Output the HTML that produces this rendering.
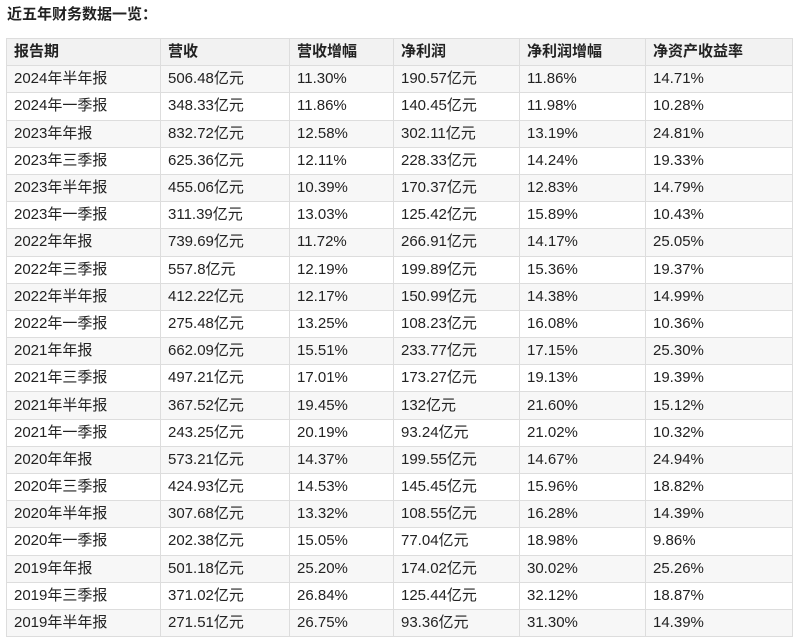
<!DOCTYPE html>
<html><head><meta charset="utf-8"><style>
html,body{margin:0;padding:0;background:#fff;width:800px;height:643px;overflow:hidden;}
body{font-family:"Liberation Sans","Noto Sans CJK SC",sans-serif;color:#222;font-size:15px;}
.t{position:absolute;left:7px;top:5px;font-weight:bold;font-size:15px;line-height:20px;}
table{position:absolute;left:6px;top:38px;border-collapse:collapse;table-layout:fixed;width:786px;}
td,th{border:1px solid #ddd;height:26.2px;padding:0 0 0 7px;text-align:left;font-size:15px;line-height:16px;white-space:nowrap;}
th{background:#f2f2f2;font-weight:bold;}
tr:nth-child(odd) td{background:#f7f7f7;}
</style></head><body>
<div class="t">近五年财务数据一览：</div>
<table>
<colgroup><col style="width:154px"><col style="width:129px"><col style="width:104px"><col style="width:126px"><col style="width:126px"><col style="width:147px"></colgroup>
<tr><th>报告期</th><th>营收</th><th>营收增幅</th><th>净利润</th><th>净利润增幅</th><th>净资产收益率</th></tr>
<tbody>
<tr><td>2024年半年报</td><td>506.48亿元</td><td>11.30%</td><td>190.57亿元</td><td>11.86%</td><td>14.71%</td></tr>
<tr><td>2024年一季报</td><td>348.33亿元</td><td>11.86%</td><td>140.45亿元</td><td>11.98%</td><td>10.28%</td></tr>
<tr><td>2023年年报</td><td>832.72亿元</td><td>12.58%</td><td>302.11亿元</td><td>13.19%</td><td>24.81%</td></tr>
<tr><td>2023年三季报</td><td>625.36亿元</td><td>12.11%</td><td>228.33亿元</td><td>14.24%</td><td>19.33%</td></tr>
<tr><td>2023年半年报</td><td>455.06亿元</td><td>10.39%</td><td>170.37亿元</td><td>12.83%</td><td>14.79%</td></tr>
<tr><td>2023年一季报</td><td>311.39亿元</td><td>13.03%</td><td>125.42亿元</td><td>15.89%</td><td>10.43%</td></tr>
<tr><td>2022年年报</td><td>739.69亿元</td><td>11.72%</td><td>266.91亿元</td><td>14.17%</td><td>25.05%</td></tr>
<tr><td>2022年三季报</td><td>557.8亿元</td><td>12.19%</td><td>199.89亿元</td><td>15.36%</td><td>19.37%</td></tr>
<tr><td>2022年半年报</td><td>412.22亿元</td><td>12.17%</td><td>150.99亿元</td><td>14.38%</td><td>14.99%</td></tr>
<tr><td>2022年一季报</td><td>275.48亿元</td><td>13.25%</td><td>108.23亿元</td><td>16.08%</td><td>10.36%</td></tr>
<tr><td>2021年年报</td><td>662.09亿元</td><td>15.51%</td><td>233.77亿元</td><td>17.15%</td><td>25.30%</td></tr>
<tr><td>2021年三季报</td><td>497.21亿元</td><td>17.01%</td><td>173.27亿元</td><td>19.13%</td><td>19.39%</td></tr>
<tr><td>2021年半年报</td><td>367.52亿元</td><td>19.45%</td><td>132亿元</td><td>21.60%</td><td>15.12%</td></tr>
<tr><td>2021年一季报</td><td>243.25亿元</td><td>20.19%</td><td>93.24亿元</td><td>21.02%</td><td>10.32%</td></tr>
<tr><td>2020年年报</td><td>573.21亿元</td><td>14.37%</td><td>199.55亿元</td><td>14.67%</td><td>24.94%</td></tr>
<tr><td>2020年三季报</td><td>424.93亿元</td><td>14.53%</td><td>145.45亿元</td><td>15.96%</td><td>18.82%</td></tr>
<tr><td>2020年半年报</td><td>307.68亿元</td><td>13.32%</td><td>108.55亿元</td><td>16.28%</td><td>14.39%</td></tr>
<tr><td>2020年一季报</td><td>202.38亿元</td><td>15.05%</td><td>77.04亿元</td><td>18.98%</td><td>9.86%</td></tr>
<tr><td>2019年年报</td><td>501.18亿元</td><td>25.20%</td><td>174.02亿元</td><td>30.02%</td><td>25.26%</td></tr>
<tr><td>2019年三季报</td><td>371.02亿元</td><td>26.84%</td><td>125.44亿元</td><td>32.12%</td><td>18.87%</td></tr>
<tr><td>2019年半年报</td><td>271.51亿元</td><td>26.75%</td><td>93.36亿元</td><td>31.30%</td><td>14.39%</td></tr>
</tbody></table>
</body></html>
